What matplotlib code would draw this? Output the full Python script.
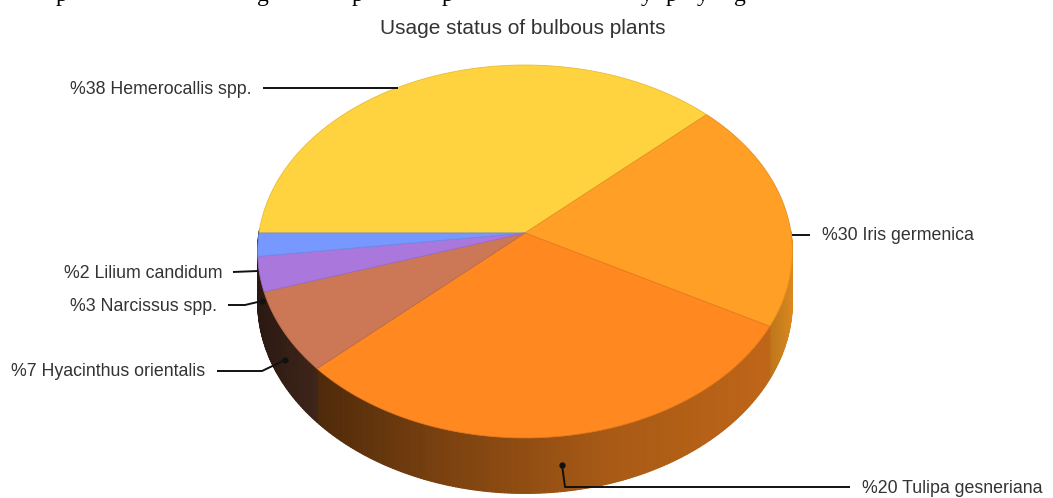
import numpy as np
import matplotlib
matplotlib.use('Agg')
import matplotlib.pyplot as plt
from matplotlib.collections import PolyCollection

# slices clockwise from 9 o'clock; drawn sizes differ from the printed % for Iris/Tulipa in the source
names = ['Hemerocallis spp.', 'Iris germenica', 'Tulipa gesneriana', 'Hyacinthus orientalis', 'Narcissus spp.', 'Lilium candidum']
printed_pct = [38, 30, 20, 7, 3, 2]
slice_sizes = [38, 20, 30, 7, 3, 2]
colors = ['#FFD23F', '#FF9F25', '#FF8820', '#CC7755', '#AA77DD', '#7799FF']

title = 'Usage status of bulbous plants'
cut_letters = ['p', 'g', 'p', 'p', 'y', 'p', 'y', 'g']
cut_letters_x = [62, 263, 357, 447, 647, 671, 703, 740]

cx, cy = 525, 233
a, b, q = 266, 184.6, 0.099
depth = 50

def project(t):
    X, Y = np.cos(t), np.sin(t)
    d = 1 + q*Y
    return cx + a*X/d, cy - b*Y/d, depth/d

def shade(col, t):
    f = np.interp(np.cos(t), [-1, -.77, -.28, .28, .88, 1], [.2, .29, .48, .66, .75, .88])
    return tuple(np.array(matplotlib.colors.to_rgb(col))*f)

fig = plt.figure(figsize=(10.53, 4.98), dpi=100)
ax = fig.add_axes([0, 0, 1, 1])
ax.set_xlim(0, 1053)
ax.set_ylim(498, 0)
ax.axis('off')

edges = np.pi - np.cumsum([0] + slice_sizes)/100*2*np.pi

# side wall first
quads, quad_cols = [], []
for i, col in enumerate(colors):
    ts = np.linspace(edges[i], edges[i+1], max(int(slice_sizes[i]*6), 4))
    for t0, t1 in zip(ts[:-1], ts[1:]):
        if np.sin((t0+t1)/2) > 0.02:
            continue
        x0, y0, d0 = project(t0)
        x1, y1, d1 = project(t1)
        quads.append([(x0, y0), (x1, y1), (x1, y1+d1), (x0, y0+d0)])
        # the far-left slices read as dark brown in the source, not purple
        c = '#CC7755' if i > 3 else col
        quad_cols.append(shade(c, (t0+t1)/2))
ax.add_collection(PolyCollection(quads, facecolors=quad_cols, edgecolors=quad_cols, linewidths=0.8))

# top face
for i, col in enumerate(colors):
    ts = np.linspace(edges[i], edges[i+1], 120)
    xs, ys, _ = project(ts)
    ax.fill(np.r_[cx, xs], np.r_[cy, ys], facecolor=col, edgecolor=tuple(np.array(matplotlib.colors.to_rgb(col))*.9), lw=0.6)

ax.text(523, 28, title, ha='center', va='center', fontsize=15, color='#333333', family='Liberation Sans')

# text anchor, then leader polyline starting at the pie
label_xy = [(252, 89, 'right'), (822, 235, 'left'), (862, 488, 'left'), (205, 371, 'right'), (217, 306, 'right'), (223, 273, 'right')]
leaders = [
    ([398, 263], [88, 88]),
    ([792, 810], [235, 235]),
    ([562, 565, 850], [465, 487, 487]),
    ([285, 262, 217], [360, 371, 371]),
    ([262, 245, 228], [301, 305, 305]),
    ([258, 233], [271, 272]),
]
for i, name in enumerate(names):
    x, y, ha = label_xy[i]
    ax.text(x, y, f'%{printed_pct[i]} {name}', ha=ha, va='center', fontsize=12.8, color='#333333', family='Liberation Sans')
    ax.plot(leaders[i][0], leaders[i][1], color='#111111', lw=1.4, solid_capstyle='butt')
    if len(leaders[i][0]) > 2:
        ax.plot(leaders[i][0][0], leaders[i][1][0], 'o', color='#111111', ms=3.5)

for ch, x in zip(cut_letters, cut_letters_x):
    ax.text(x, 1, ch, ha='center', va='baseline', fontsize=17, color='black', family='Liberation Serif')

fig.savefig('out.png', dpi=100)
